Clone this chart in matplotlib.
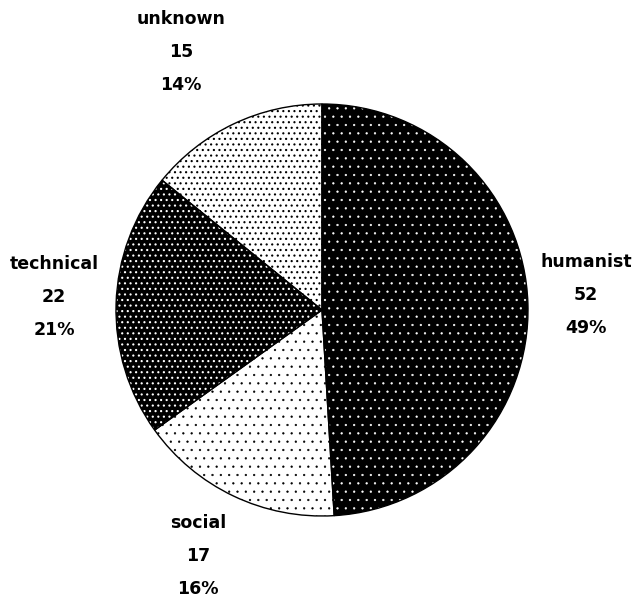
import matplotlib
matplotlib.use("Agg")
import matplotlib.pyplot as plt
from matplotlib.patches import Wedge

categories = ["humanist", "social", "technical", "unknown"]
counts = [52, 17, 22, 15]
percents = ["49%", "16%", "21%", "14%"]

# styles
face_colors = ["black", "white", "black", "white"]
dot_colors = ["white", "black", "white", "black"]
hatches = ["..", "..", "...", "..."]
hatch_lw = [0.4, 0.4, 0.8, 0.8]
# label block centres (pixel layout, y from top)
label_pos = [(586, 295), (198, 556), (54, 297), (181, 52)]

W, H = 634, 605
fig = plt.figure(figsize=(W / 100, H / 100), dpi=100)
ax = fig.add_axes([0, 0, 1, 1])

center = (322, H - 310)
radius = 206

wedges, _ = ax.pie(counts, startangle=90, counterclock=False, center=center,
                   radius=radius, colors=face_colors, frame=True,
                   wedgeprops=dict(linewidth=0))
ax.set_xlim(0, W)
ax.set_ylim(0, H)
ax.set_aspect("equal")
ax.set_axis_off()

for w, h, dc, lw in zip(wedges, hatches, dot_colors, hatch_lw):
    plt.rcParams['hatch.linewidth'] = lw
    ov = Wedge(w.center, w.r, w.theta1, w.theta2,
               fill=False, hatch=h, edgecolor=dc, linewidth=0)
    ax.add_patch(ov)
    outline = Wedge(w.center, w.r, w.theta1, w.theta2,
                    fill=False, edgecolor="black", linewidth=1)
    ax.add_patch(outline)

for cat, n, p, (x, y) in zip(categories, counts, percents, label_pos):
    ax.text(x, H - y, f"{cat}\n{n}\n{p}", ha="center", va="center",
            fontsize=12.5, fontweight="bold", linespacing=2.05,
            family="DejaVu Sans")

fig.savefig("out.png", dpi=100)
